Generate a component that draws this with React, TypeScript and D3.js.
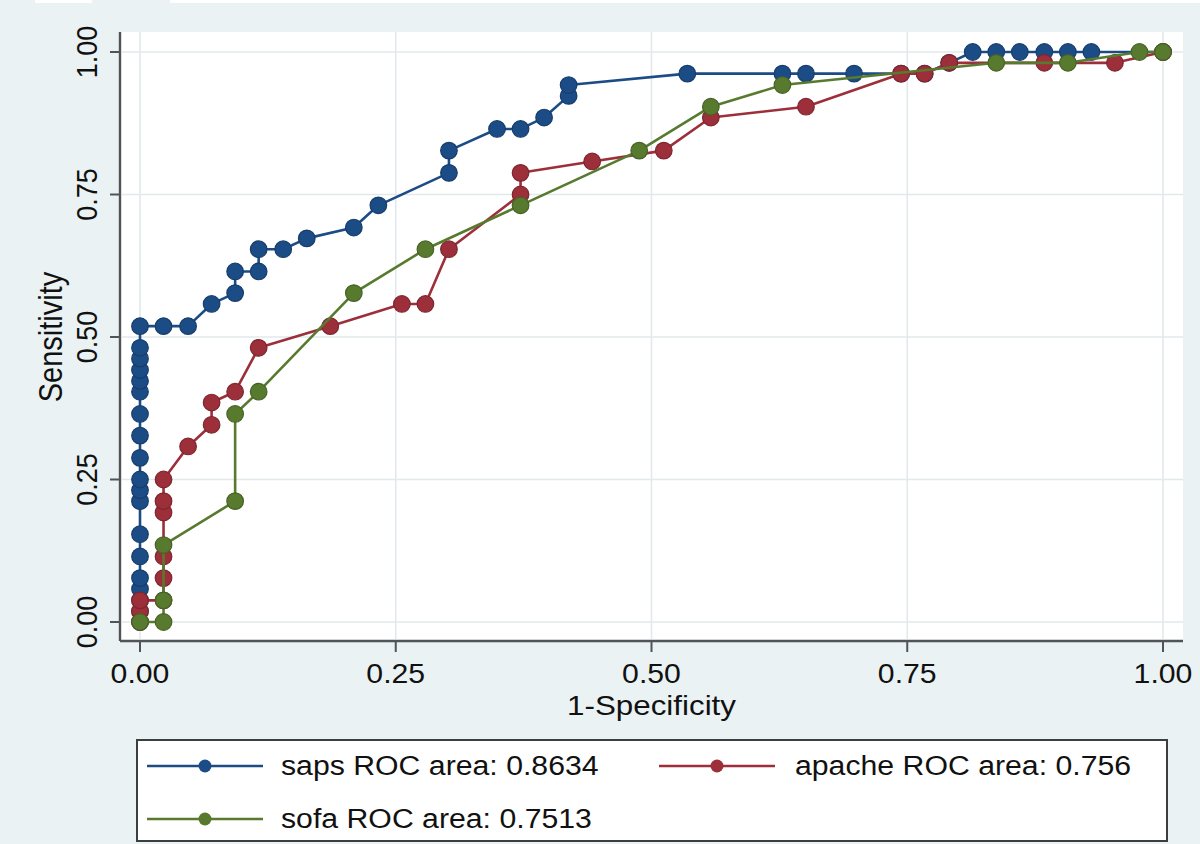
import React from "react";
import * as d3 from "d3";

type Pt = [number, number];

// 1-Specificity, Sensitivity pairs
const sapsPoints: Pt[] = [
  [0, 0], [0, 0.019], [0, 0.038], [0, 0.058], [0, 0.077], [0, 0.115], [0, 0.154],
  [0, 0.212], [0, 0.231], [0, 0.25], [0, 0.288], [0, 0.327], [0, 0.365], [0, 0.404],
  [0, 0.423], [0, 0.442], [0, 0.462], [0, 0.481], [0, 0.519],
  [0.023, 0.519], [0.047, 0.519], [0.07, 0.558], [0.093, 0.577], [0.093, 0.615],
  [0.116, 0.615], [0.116, 0.654], [0.14, 0.654], [0.163, 0.673], [0.209, 0.692],
  [0.233, 0.731], [0.302, 0.788], [0.302, 0.827], [0.349, 0.865], [0.372, 0.865],
  [0.395, 0.885], [0.419, 0.923], [0.419, 0.942], [0.535, 0.962], [0.628, 0.962],
  [0.651, 0.962], [0.698, 0.962], [0.744, 0.962], [0.767, 0.962], [0.791, 0.981],
  [0.814, 1], [0.837, 1], [0.86, 1], [0.884, 1], [0.907, 1], [0.93, 1], [1, 1],
];

const apachePoints: Pt[] = [
  [0, 0], [0, 0.019], [0, 0.038], [0.023, 0.038], [0.023, 0.077], [0.023, 0.115],
  [0.023, 0.192], [0.023, 0.212], [0.023, 0.25], [0.047, 0.308], [0.07, 0.346],
  [0.07, 0.385], [0.093, 0.404], [0.116, 0.481], [0.186, 0.519], [0.256, 0.558],
  [0.279, 0.558], [0.302, 0.654], [0.372, 0.75], [0.372, 0.788], [0.442, 0.808],
  [0.512, 0.827], [0.558, 0.885], [0.651, 0.904], [0.744, 0.962], [0.767, 0.962],
  [0.791, 0.981], [0.884, 0.981], [0.953, 0.981], [1, 1],
];

const sofaPoints: Pt[] = [
  [0, 0], [0.023, 0], [0.023, 0.038], [0.023, 0.135], [0.093, 0.212], [0.093, 0.365],
  [0.116, 0.404], [0.209, 0.577], [0.279, 0.654], [0.372, 0.731], [0.488, 0.827],
  [0.558, 0.904], [0.628, 0.942], [0.837, 0.981], [0.907, 0.981], [0.977, 1], [1, 1],
];

const seriesNames = ["saps ROC area: 0.8634", "apache ROC area: 0.756", "sofa ROC area: 0.7513"];
const seriesColors = ["#1c4c85", "#9c2f3a", "#587a2f"];
const tickValues = [0, 0.25, 0.5, 0.75, 1];
const xTitle = "1-Specificity";
const yTitle = "Sensitivity";

const W = 1200;
const H = 844;
const SX = 1.12;
const FONT = "'Liberation Sans', Arial, Helvetica, sans-serif";

export default function App() {
  const x = d3.scaleLinear().domain([0, 1]).range([140, 1163]);
  const y = d3.scaleLinear().domain([0, 1]).range([622, 52]);
  const line = d3.line<Pt>().x((d) => x(d[0])).y((d) => y(d[1]));
  const fmt = d3.format(".2f");
  const all = [sapsPoints, apachePoints, sofaPoints];

  const plotL = 120, plotR = 1183, plotT = 32, plotB = 641;

  const legendItems = [
    { i: 0, lx: 147, ly: 766, tx: 281, ty: 775 },
    { i: 1, lx: 659, ly: 766, tx: 795, ty: 775 },
    { i: 2, lx: 147, ly: 819, tx: 281, ty: 828 },
  ];

  return (
    <svg width={W} height={H} style={{ display: "block", position: "absolute", left: 0, top: 0 }} fontFamily={FONT}>
      <rect x={0} y={0} width={W} height={H} fill="#eaf2f3" />
      <rect x={35} y={0} width={57} height={3} fill="#ffffff" />
      <rect x={170} y={0} width={1030} height={3} fill="#ffffff" />
      {/* plot region */}
      <rect x={plotL} y={plotT} width={plotR - plotL} height={plotB - plotT} fill="#ffffff" />
      {/* gridlines */}
      {tickValues.map((t) => (
        <line key={"gy" + t} x1={plotL + 2} x2={plotR} y1={y(t)} y2={y(t)} stroke="#e2e9ec" strokeWidth={1.6} />
      ))}
      {tickValues.map((t) => (
        <line key={"gx" + t} x1={x(t)} x2={x(t)} y1={plotT} y2={plotB - 2} stroke="#e2e9ec" strokeWidth={1.6} />
      ))}
      {/* series */}
      {all.map((pts, i) => (
        <g key={"s" + i}>
          <path d={line(pts) || ""} fill="none" stroke={seriesColors[i]} strokeWidth={2.6} strokeLinejoin="round" />
          {pts.map((p, j) => (
            <circle key={j} cx={x(p[0])} cy={y(p[1])} r={8.3} fill={seriesColors[i]} stroke={d3.color(seriesColors[i])!.darker(0.6).toString()} strokeWidth={1.2} />
          ))}
        </g>
      ))}
      {/* axes */}
      <line x1={plotL} x2={plotL} y1={plotT} y2={plotB} stroke="#505458" strokeWidth={2.4} />
      <line x1={plotL} x2={plotR} y1={plotB} y2={plotB} stroke="#505458" strokeWidth={2.4} />
      {tickValues.map((t) => (
        <line key={"ty" + t} x1={plotL - 10} x2={plotL} y1={y(t)} y2={y(t)} stroke="#505458" strokeWidth={2} />
      ))}
      {tickValues.map((t) => (
        <line key={"tx" + t} x1={x(t)} x2={x(t)} y1={plotB} y2={plotB + 11} stroke="#505458" strokeWidth={2} />
      ))}
      {tickValues.map((t) => (
        <text key={"lx" + t} transform={`translate(${x(t)},683) scale(${SX},1)`} textAnchor="middle" fontSize={27} fill="#111">
          {fmt(t)}
        </text>
      ))}
      {tickValues.map((t) => (
        <text key={"ly" + t} transform={`translate(97,${y(t)}) scale(${SX},1) rotate(-90)`} textAnchor="middle" fontSize={27} fill="#111">
          {fmt(t)}
        </text>
      ))}
      <text transform={`translate(${x(0.5)},715) scale(${SX},1)`} textAnchor="middle" fontSize={28} fill="#111">
        {xTitle}
      </text>
      <text transform={`translate(62,${y(0.5)}) scale(${SX},1) rotate(-90)`} textAnchor="middle" fontSize={29} fill="#111">
        {yTitle}
      </text>
      {/* legend */}
      <rect x={137} y={740} width={1030} height={101} fill="#ffffff" stroke="#3c3f42" strokeWidth={2} />
      {legendItems.map((it) => (
        <g key={"leg" + it.i}>
          <line x1={it.lx} x2={it.lx + 116} y1={it.ly} y2={it.ly} stroke={seriesColors[it.i]} strokeWidth={2.4} />
          <circle cx={it.lx + 58} cy={it.ly} r={6.5} fill={seriesColors[it.i]} />
          <text transform={`translate(${it.tx},${it.ty}) scale(${SX},1)`} fontSize={27} fill="#111">
            {seriesNames[it.i]}
          </text>
        </g>
      ))}
    </svg>
  );
}
